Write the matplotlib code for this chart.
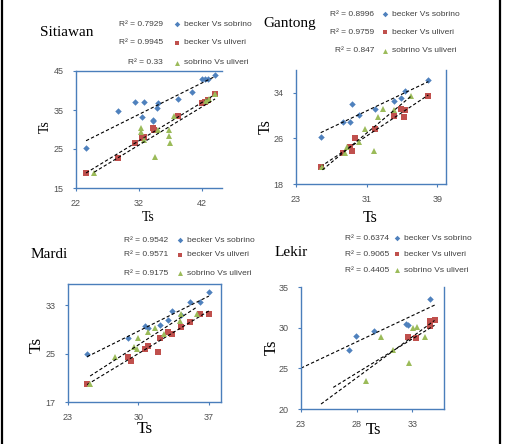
import matplotlib.pyplot as plt
import numpy as np
from matplotlib.lines import Line2D

# series shared by all four stations
series_names = ['becker Vs sobrino', 'becker Vs uliveri', 'sobrino Vs uliveri']

# Sitiawan
sit_bs_x = [23.6, 28.7, 31.4, 32.8, 32.5, 34.3, 34.3, 34.8, 35.1, 38.2, 40.4, 42.1, 42.5, 43.0, 44.1]
sit_bs_y = [25.2, 34.7, 37.0, 37.0, 33.1, 32.4, 32.2, 35.6, 36.8, 37.9, 39.7, 43.0, 43.0, 43.0, 44.1]
sit_bu_x = [23.6, 28.7, 31.4, 32.5, 32.8, 34.3, 34.4, 38.2, 42.1, 42.5, 43.0, 44.1]
sit_bu_y = [18.8, 22.8, 26.5, 27.7, 28.2, 30.3, 29.9, 33.4, 36.9, 37.1, 37.5, 39.0]
sit_su_x = [24.9, 32.3, 32.3, 32.8, 34.5, 35.1, 36.7, 36.8, 36.9, 37.6, 42.7, 43.2, 44.1]
sit_su_y = [18.8, 30.3, 29.4, 27.3, 22.9, 29.9, 29.9, 28.3, 26.6, 33.4, 37.3, 37.7, 39.0]
sit_r2 = ['R² = 0.7929', 'R² = 0.9945', 'R² = 0.33']

# Gantong
gan_bs_x = [25.8, 28.3, 29.1, 29.3, 30.1, 32.0, 34.1, 34.9, 35.3, 38.0]
gan_bs_y = [26.2, 28.8, 28.9, 32.0, 30.1, 31.1, 32.6, 33.1, 34.3, 36.2]
gan_bu_x = [25.8, 28.3, 29.1, 29.3, 29.7, 32.0, 34.1, 34.9, 35.3, 35.2, 38.0]
gan_bu_y = [20.9, 23.5, 24.5, 23.8, 26.0, 27.7, 29.9, 31.1, 31.0, 29.7, 33.4]
gan_su_x = [26.0, 28.6, 28.8, 30.1, 30.8, 31.8, 32.3, 32.9, 34.1, 36.0]
gan_su_y = [20.9, 23.5, 24.5, 25.4, 27.6, 23.8, 29.8, 31.1, 31.0, 33.4]
gan_r2 = ['R² = 0.8996', 'R² = 0.9759', 'R² = 0.847']

# Mardi
mar_bs_x = [24.9, 29.0, 30.6, 30.9, 32.1, 32.9, 33.3, 34.2, 35.1, 36.1, 37.0]
mar_bs_y = [25.0, 27.5, 29.6, 29.3, 29.7, 30.5, 32.1, 31.4, 33.6, 33.6, 35.1]
mar_bu_x = [24.9, 29.0, 29.3, 30.6, 30.9, 31.9, 32.1, 32.9, 33.3, 34.2, 35.1, 36.1, 37.0]
mar_bu_y = [19.9, 24.5, 23.7, 25.7, 26.3, 25.3, 27.6, 28.6, 28.2, 29.4, 30.3, 31.6, 31.5]
mar_su_x = [25.2, 27.7, 29.6, 29.9, 30.0, 30.9, 31.6, 32.5, 34.1, 34.2, 35.8]
mar_su_y = [19.9, 24.5, 26.1, 25.7, 27.6, 28.5, 29.3, 28.2, 30.4, 31.6, 31.5]
mar_r2 = ['R² = 0.9542', 'R² = 0.9571', 'R² = 0.9175']

# Lekir
lek_bs_x = [27.3, 27.9, 29.6, 32.4, 32.6, 34.6]
lek_bs_y = [27.3, 29.0, 29.6, 30.4, 30.3, 33.5]
lek_bu_x = [32.6, 33.3, 34.6, 34.6, 35.0]
lek_bu_y = [28.8, 28.7, 30.2, 30.8, 31.0]
lek_su_x = [28.8, 30.2, 31.3, 32.7, 33.1, 33.4, 34.1]
lek_su_y = [23.5, 28.8, 27.3, 25.6, 30.0, 30.1, 28.8]
lek_r2 = ['R² = 0.6374', 'R² = 0.9065', 'R² = 0.4405']
lek_fit_range = [(23.0, 35.1), (24.8, 35.0), (25.9, 35.0)]

colors = ['#4f81bd', '#c0504d', '#9bbb59']
markers = ['D', 's', '^']
msizes = [3.3, 4.2, 4.2]
axis_blue = '#4a7ebb'
W, H = 506, 444

fig = plt.figure(figsize=(W / 100, H / 100), dpi=100)


def fx(px):
    return px / W


def fy(py):
    return 1 - py / H


def draw_panel(box, series, xlim, ylim, xticks, yticks, hidden, fit_ranges=None):
    # box is (left, top, right, bottom) in pixels
    l, t, r, b = box
    ax = fig.add_axes([fx(l), fy(b), fx(r - l), (b - t) / H])
    for i, (x, y) in enumerate(series):
        ax.plot(x, y, linestyle='none', marker=markers[i], color=colors[i],
                markersize=msizes[i], markeredgewidth=0)
        k, c = np.polyfit(x, y, 1)
        if fit_ranges is None:
            xs = np.array([min(x), max(x)])
        else:
            xs = np.array(fit_ranges[i])
        ax.plot(xs, k * xs + c, color='black', lw=0.8, dashes=(3, 2))
    ax.set_xlim(xlim)
    ax.set_ylim(ylim)
    ax.set_xticks(xticks)
    ax.set_yticks(yticks)
    for side in ['left', 'right', 'top', 'bottom']:
        ax.spines[side].set_color(axis_blue)
        ax.spines[side].set_linewidth(1.0)
        ax.spines[side].set_visible(side not in hidden)
    ax.tick_params(axis='x', direction='out', length=2.5, color=axis_blue,
                   labelsize=6.5, labelcolor='#505050', pad=5.2)
    ax.tick_params(axis='y', direction='out', length=2.5, color=axis_blue,
                   labelsize=6.5, labelcolor='#505050', pad=6.5)
    for lab in ax.get_xticklabels() + ax.get_yticklabels():
        lab.set_family('Liberation Sans')
    return ax


def draw_key(r2, r2_right, mark_x, rows):
    for i, py in enumerate(rows):
        fig.text(fx(r2_right), fy(py), r2[i], ha='right', va='center',
                 fontsize=6, color='#404040', family='Liberation Sans')
        fig.add_artist(Line2D([fx(mark_x)], [fy(py)], marker=markers[i],
                              color=colors[i], markersize=msizes[i] * 0.85,
                              markeredgewidth=0, linestyle='none'))
        fig.text(fx(mark_x + 7), fy(py), series_names[i], ha='left', va='center',
                 fontsize=6, color='#404040', family='Liberation Sans')


def labels(title, title_xy, xl_xy, yl_xy, size):
    fig.text(fx(title_xy[0]), fy(title_xy[1]), title, ha='left', va='center',
             fontsize=11, family='Liberation Serif')
    fig.text(fx(xl_xy[0]), fy(xl_xy[1]), 'Ts', ha='center', va='center',
             fontsize=size, family='Liberation Serif')
    fig.text(fx(yl_xy[0]), fy(yl_xy[1]), 'Ts', ha='center', va='center',
             fontsize=size, rotation=90, family='Liberation Serif')


# Sitiawan
draw_panel((76, 71, 222, 188),
           [(sit_bs_x, sit_bs_y), (sit_bu_x, sit_bu_y), (sit_su_x, sit_su_y)],
           (22, 45.2), (15, 45), [22, 32, 42], [15, 25, 35, 45], ['right'])
draw_key(sit_r2, 163, 177, [24, 43, 63])
labels('Sitiawan', (40, 32), (148, 217), (45, 127), 10)

# Gantong
draw_panel((296, 70, 446, 184),
           [(gan_bs_x, gan_bs_y), (gan_bu_x, gan_bu_y), (gan_su_x, gan_su_y)],
           (23, 40), (18, 38), [23, 31, 39], [18, 26, 34], ['top'])
draw_key(gan_r2, 374, 385, [14, 32, 51])
labels('Gantong', (263, 24), (370, 218), (266, 127), 11.5)

# Mardi
draw_panel((68, 284, 221, 402),
           [(mar_bs_x, mar_bs_y), (mar_bu_x, mar_bu_y), (mar_su_x, mar_su_y)],
           (23, 38.2), (17, 36.5), [23, 30, 37], [17, 25, 33], [])
draw_key(mar_r2, 168, 180, [240, 255, 273])
labels('Mardi', (31, 255), (145, 429), (37, 345), 12.5)

# Lekir
draw_panel((301, 287, 444, 409),
           [(lek_bs_x, lek_bs_y), (lek_bu_x, lek_bu_y), (lek_su_x, lek_su_y)],
           (23, 35.85), (20, 35), [23, 28, 33], [20, 25, 30, 35], ['top'],
           fit_ranges=lek_fit_range)
draw_key(lek_r2, 389, 397, [238, 254, 270])
labels('Lekir', (275, 252), (374, 430), (272, 347), 12)

# black frame at both sides of the figure
for px in [2.5, 500.5]:
    fig.add_artist(Line2D([fx(px), fx(px)], [0, 1], color='black', lw=1.6))

fig.savefig('out.png', dpi=100)
